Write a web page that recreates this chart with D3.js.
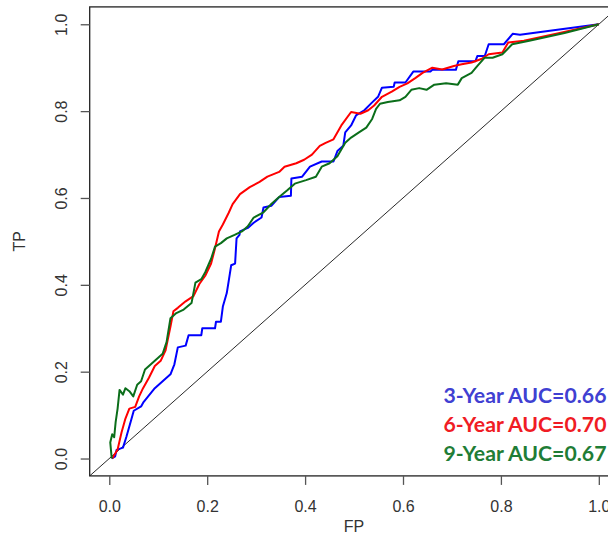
<!DOCTYPE html>
<html><head><meta charset="utf-8">
<script src="https://cdn.jsdelivr.net/npm/d3@7"></script>
<style>html,body{margin:0;padding:0;background:#fff;overflow:hidden}</style>
</head><body>
<svg id="chart" width="608" height="534"></svg>
<script>
const xTicks = [0, 0.2, 0.4, 0.6, 0.8, 1.0];
const yTicks = [0, 0.2, 0.4, 0.6, 0.8, 1.0];
const xLabel = "FP";
const yLabel = "TP";
const seriesNames = ["3-Year AUC=0.66", "6-Year AUC=0.70", "9-Year AUC=0.67"];
const seriesColors = ["#0000ff", "#ff0000", "#0b6e1a"];
const legendColors = ["#4040d2", "#f01c24", "#1f7d36"];

const fp3 = [0.005,0.012,0.015,0.028,0.035,0.045,0.05,0.065,0.07,0.093,0.109,0.125,0.133,0.14,0.156,0.162,0.188,0.19,0.216,0.218,0.228,0.232,0.24,0.244,0.249,0.257,0.26,0.266,0.267,0.283,0.295,0.311,0.315,0.331,0.347,0.371,0.372,0.394,0.41,0.434,0.458,0.466,0.478,0.482,0.494,0.504,0.521,0.536,0.549,0.557,0.581,0.583,0.605,0.621,0.656,0.66,0.708,0.713,0.748,0.752,0.767,0.775,0.806,0.824,0.839,0.9,1.0];
const tp3 = [0,0.005,0.02,0.025,0.05,0.09,0.11,0.12,0.13,0.162,0.178,0.194,0.217,0.256,0.26,0.284,0.284,0.30,0.30,0.315,0.315,0.35,0.381,0.409,0.445,0.449,0.507,0.515,0.523,0.531,0.543,0.555,0.578,0.582,0.602,0.605,0.645,0.649,0.672,0.684,0.684,0.708,0.72,0.751,0.767,0.79,0.802,0.819,0.833,0.854,0.856,0.866,0.866,0.891,0.891,0.895,0.895,0.915,0.915,0.927,0.927,0.954,0.954,0.978,0.976,0.985,1.0];

const fp6 = [0.006,0.017,0.025,0.033,0.041,0.053,0.061,0.069,0.081,0.093,0.105,0.115,0.125,0.131,0.14,0.156,0.172,0.184,0.196,0.208,0.216,0.224,0.232,0.244,0.252,0.267,0.287,0.307,0.323,0.347,0.358,0.382,0.398,0.414,0.43,0.442,0.458,0.474,0.494,0.513,0.529,0.541,0.557,0.577,0.593,0.609,0.625,0.64,0.66,0.68,0.704,0.72,0.74,0.76,0.775,0.803,0.815,0.847,0.92,1.0];
const tp6 = [0,0.021,0.06,0.092,0.115,0.119,0.143,0.162,0.186,0.213,0.225,0.249,0.304,0.339,0.347,0.362,0.374,0.402,0.421,0.449,0.484,0.523,0.539,0.566,0.586,0.609,0.625,0.637,0.649,0.66,0.672,0.68,0.688,0.70,0.72,0.727,0.735,0.767,0.798,0.794,0.802,0.813,0.833,0.845,0.856,0.864,0.876,0.888,0.9,0.896,0.904,0.908,0.912,0.92,0.931,0.935,0.958,0.962,0.98,1.0];

const fp9 = [0.005,0.002,0.006,0.01,0.013,0.017,0.021,0.028,0.033,0.041,0.049,0.057,0.065,0.073,0.085,0.097,0.109,0.117,0.125,0.137,0.152,0.168,0.176,0.188,0.196,0.208,0.216,0.228,0.24,0.256,0.271,0.283,0.295,0.315,0.331,0.347,0.363,0.379,0.402,0.422,0.434,0.45,0.466,0.482,0.494,0.51,0.525,0.537,0.545,0.553,0.569,0.593,0.605,0.617,0.633,0.648,0.664,0.688,0.712,0.72,0.74,0.752,0.767,0.783,0.803,0.823,0.858,0.93,1.0];
const tp9 = [0,0.037,0.056,0.049,0.084,0.115,0.158,0.147,0.162,0.155,0.143,0.17,0.178,0.205,0.217,0.229,0.241,0.268,0.323,0.335,0.343,0.358,0.405,0.413,0.429,0.46,0.488,0.496,0.507,0.515,0.523,0.535,0.555,0.567,0.586,0.602,0.617,0.633,0.641,0.649,0.672,0.68,0.696,0.727,0.739,0.751,0.762,0.782,0.805,0.817,0.821,0.825,0.833,0.849,0.853,0.849,0.861,0.864,0.861,0.876,0.888,0.904,0.923,0.923,0.931,0.954,0.962,0.98,1.0];

const series = [
  {fp: fp3, tp: tp3},
  {fp: fp6, tp: tp6},
  {fp: fp9, tp: tp9}
];

(function () {
const svg = d3.select("#chart");
const pL = 89.7, pR = 618.4, pT = 6.9, pB = 475.9;
const x = d3.scaleLinear().domain([-0.04, 1.04]).range([pL, pR]);
const y = d3.scaleLinear().domain([-0.04, 1.04]).range([pB, pT]);

svg.append("clipPath").attr("id", "clip").append("rect")
  .attr("x", pL).attr("y", pT).attr("width", pR - pL).attr("height", pB - pT);

const plot = svg.append("g").attr("clip-path", "url(#clip)");

plot.append("line")
  .attr("x1", x(-0.04)).attr("y1", y(-0.04)).attr("x2", x(1.04)).attr("y2", y(1.04))
  .attr("stroke", "#111").attr("stroke-width", 0.9);

const line = d3.line().x(d => x(d[0])).y(d => y(d[1]));
series.forEach((s, i) => {
  const pts = s.fp.map((v, j) => [v, s.tp[j]]);
  plot.append("path").attr("d", line(pts)).attr("fill", "none")
    .attr("stroke", seriesColors[i]).attr("stroke-width", 2).attr("stroke-linejoin", "round");
});

svg.append("rect").attr("x", pL).attr("y", pT).attr("width", pR - pL).attr("height", pB - pT)
  .attr("fill", "none").attr("stroke", "#222").attr("stroke-width", 1.3);

const font = "'Liberation Sans', Arial, sans-serif";
const xAxis = svg.append("g").attr("transform", `translate(0,${pB})`)
  .call(d3.axisBottom(x).tickValues(xTicks).tickFormat(d3.format(".1f")).tickSize(9).tickPadding(15.3));
const yAxis = svg.append("g").attr("transform", `translate(${pL},0)`)
  .call(d3.axisLeft(y).tickValues(yTicks).tickFormat(d3.format(".1f")).tickSize(9));
[xAxis, yAxis].forEach(g => {
  g.select(".domain").remove();
  g.selectAll(".tick line").attr("stroke", "#555").attr("stroke-width", 1.3);
  g.selectAll(".tick text").attr("fill", "#333").style("font-family", font).style("font-size", "16px");
});
yAxis.selectAll(".tick text")
  .attr("x", null).attr("dy", null).attr("text-anchor", "middle")
  .attr("transform", "translate(-22.5,0) rotate(-90)");

svg.append("text").attr("x", (pL + pR) / 2).attr("y", 532).attr("text-anchor", "middle")
  .attr("fill", "#333").style("font-family", font).style("font-size", "16px").text(xLabel);
svg.append("text").attr("transform", `translate(25,${(pT + pB) / 2}) rotate(-90)`).attr("text-anchor", "middle")
  .attr("fill", "#333").style("font-family", font).style("font-size", "16px").text(yLabel);

const baselines = [403.3, 432.3, 460.7];
seriesNames.forEach((n, i) => {
  svg.append("text").attr("x", 443.5).attr("y", baselines[i])
    .attr("fill", legendColors[i]).style("font-family", "Lato, 'Open Sans', sans-serif")
    .style("font-weight", "bold").style("font-size", "20px")
    .attr("textLength", 163).attr("lengthAdjust", "spacingAndGlyphs").text(n);
});
})();
</script>
</body></html>
